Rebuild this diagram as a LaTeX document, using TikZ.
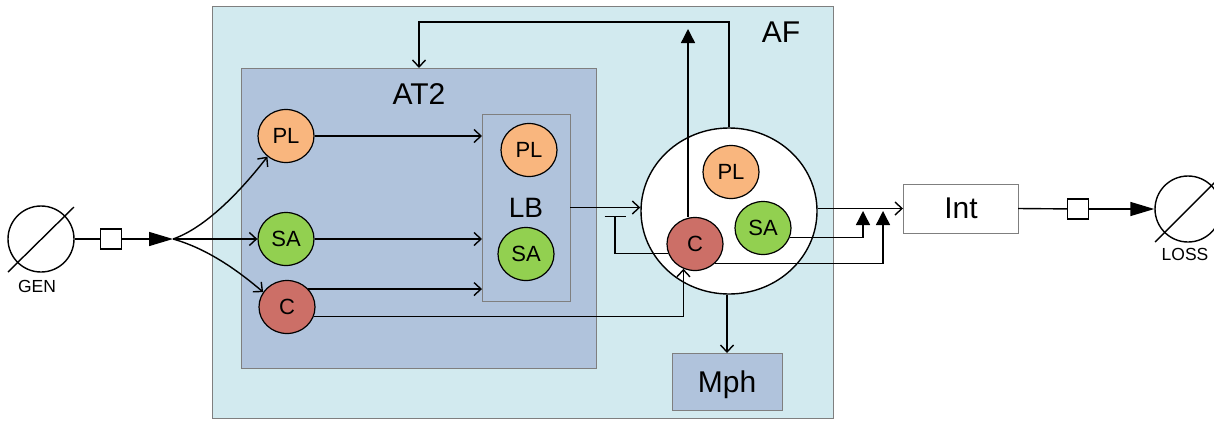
\documentclass[tikz,border=0pt]{standalone}
\usepackage{fontspec}
\setmainfont{Liberation Sans}
\usetikzlibrary{arrows.meta,shapes.geometric,calc}
\definecolor{afcol}{HTML}{D2EAEF}
\definecolor{at2col}{HTML}{B0C3DC}
\definecolor{plcol}{HTML}{F9B67E}
\definecolor{sacol}{HTML}{92D050}
\definecolor{ccol}{HTML}{CC6F67}
\definecolor{boxgray}{HTML}{7F7F7F}
\begin{document}
\begin{tikzpicture}[x=1pt,y=-1pt,
  box/.style={draw=boxgray, line width=1pt, inner sep=0pt, outer sep=0pt, anchor=north west},
  blob/.style={ellipse, draw=black, line width=1.2pt, inner sep=0pt, minimum width=56pt, minimum height=53pt, font=\fontsize{22}{26}\selectfont},
  big/.style={font=\fontsize{30}{36}\selectfont, inner sep=0pt, anchor=base},
  small/.style={font=\fontsize{17.5}{21}\selectfont, inner sep=0pt, anchor=base},
  ln/.style={line width=1.4pt},
  open/.style={ln, -{Straight Barb[length=7pt,width=13pt]}},
  tri/.style={ln, -{Triangle[length=24pt,width=14pt]}},
  triup/.style={ln, -{Triangle[length=14pt,width=14pt]}},
  tee/.style={ln, -{Bar[width=21pt]}},
  sq/.style={draw, line width=1.4pt, fill=white, minimum width=21pt, minimum height=20pt, inner sep=0pt},
  sym/.style={circle, draw, line width=1.4pt, minimum size=66pt, inner sep=0pt}]
\path[use as bounding box] (0,0) rectangle (1214,421);

% containers
\node[box, fill=afcol, minimum width=621pt, minimum height=412pt] (af) at (212,6) {};
\node[big] (aflbl) at (781,42) {AF};
\node[box, fill=at2col, minimum width=355pt, minimum height=300pt] (at2) at (241,68) {};
\node[big] (at2lbl) at (419,104) {AT2};
\node[box, fill=at2col, minimum width=88pt, minimum height=187pt] (lb) at (482,114) {};
\node[big, font=\fontsize{28}{34}\selectfont] (lblbl) at (526,217) {LB};

% AT2 blobs
\node[blob, fill=plcol] (pl1) at (286,136) {PL};
\node[blob, fill=sacol] (sa1) at (286,239) {SA};
\node[blob, fill=ccol] (c1) at (287,307) {C};
\node[blob, fill=plcol] (pl2) at (529,150) {PL};
\node[blob, fill=sacol] (sa2) at (526,254) {SA};

% AF big circle
\node[ellipse, draw, fill=white, line width=1.4pt, minimum width=176pt, minimum height=166pt, inner sep=0pt] (bc) at (729,211) {};
\node[blob, fill=plcol] (pl3) at (731,172) {PL};
\node[blob, fill=sacol] (sa3) at (763,228) {SA};
\node[blob, fill=ccol] (c3) at (695,244) {C};

% Mph and Int
\node[box, fill=at2col, minimum width=110pt, minimum height=57pt] (mph) at (672,353) {};
\node[big] (mphlbl) at (727,392) {Mph};
\node[box, fill=white, minimum width=115pt, minimum height=49pt] (int) at (903,184) {};
\node[big] (intlbl) at (961,218) {Int};

% GEN
\node[sym] (gen) at (41,239) {};
\draw[ln] ($(gen.center)+(-33,33)$) -- ($(gen.center)+(33,-32)$);
\node[small] (genlbl) at (37,292) {GEN};
\node[sq] (sq1) at (111,239) {};
\coordinate (split) at (173,239);
\draw[ln] (gen) -- (sq1);
\draw[tri] (sq1) -- (split);
\draw[open] (split) .. controls (205,228) and (240,192) .. (pl1.228);
\draw[open] (split) -- (sa1);
\draw[open] (split) .. controls (205,248) and (235,268) .. (c1.148);

% into LB
\draw[open] (pl1.east) -- (pl1.east -| lb.west);
\draw[open] (sa1.east) -- (sa1.east -| lb.west);
\draw[open] (c1.40) -- (c1.40 -| lb.west);
\draw[open] (c1.-20) -| (c3.245);

% LB to AF
\draw[open] (lb.east) -- (lb.east -| bc.west);
\coordinate (teeend) at (615,216);
\draw[tee] (c3.200) -| (teeend);
\coordinate (uptop) at (688,29);
\draw[triup] (uptop |- c3.north) -- (uptop);
\coordinate (fb) at (419,22);
\draw[open] (bc.north) |- (fb) -- (fb |- at2.north);
\draw[open] (mph.north |- bc.south) -- (mph.north);

% to Int
\draw[open] (int.west -| bc.east) -- (int.west);
\coordinate (upa) at (863,211);
\coordinate (upb) at (883,211);
\draw[triup] (sa3.-20) -| (upa);
\draw[triup] (c3.-45) -| (upb);

% LOSS
\node[sq] (sq2) at (1078,209) {};
\node[sym] (loss) at (1188,209) {};
\draw[ln] ($(loss.center)+(-33,33)$) -- ($(loss.center)+(33,-33)$);
\node[small] (losslbl) at (1185,260) {LOSS};
\draw[ln] (int.east) -- (sq2);
\draw[tri] (sq2) -- (loss.west);
\end{tikzpicture}
\end{document}
